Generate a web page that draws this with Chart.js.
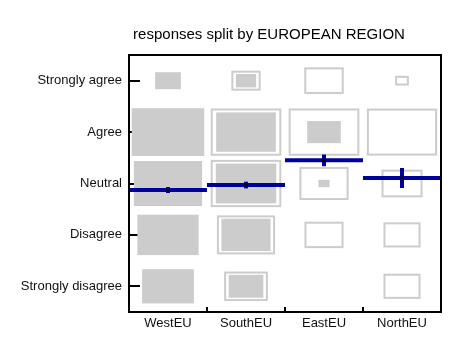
<!DOCTYPE html>
<html>
<head>
<meta charset="utf-8">
<script src="https://cdn.jsdelivr.net/npm/chart.js@4.4.0/dist/chart.umd.min.js"></script>
<style>
  html, body { margin: 0; padding: 0; background: #fff; }
</style>
</head>
<body>
<canvas id="myChart" width="453" height="345"></canvas>
<script>
// Data
var regions = ["WestEU", "SouthEU", "EastEU", "NorthEU"];
var levels = ["Strongly disagree", "Disagree", "Neutral", "Agree", "Strongly agree"];

// filled boxes, share of cell size, rows in levels order
var filledWest = [0.665, 0.785, 0.875, 0.93, 0.33];
var filledSouth = [0.445, 0.63, 0.775, 0.765, 0.26];
var filledEast = [0, 0, 0.145, 0.43, 0];
var filledNorth = [0, 0, 0, 0, 0];

// outlined boxes
var outlineWest = [0, 0, 0, 0, 0];
var outlineSouth = [0.535, 0.72, 0.88, 0.88, 0.35];
var outlineEast = [0, 0.475, 0.605, 0.88, 0.48];
var outlineNorth = [0.45, 0.45, 0.5, 0.875, 0.15];

// mean response (1 = strongly disagree .. 5 = strongly agree) and error
var means = [2.873, 2.97, 3.45, 3.107];
var meanErr = [0.058, 0.065, 0.114, 0.195];

var filled = [filledWest, filledSouth, filledEast, filledNorth];
var outlined = [outlineWest, outlineSouth, outlineEast, outlineNorth];

function line(ctx, x1, y1, x2, y2) {
  ctx.beginPath();
  ctx.moveTo(x1, y1);
  ctx.lineTo(x2, y2);
  ctx.stroke();
}

function cellRect(chart, cx, cy, s) {
  var x = chart.scales.x, y = chart.scales.y;
  var x1 = x.getPixelForValue(cx - s / 2), x2 = x.getPixelForValue(cx + s / 2);
  var y1 = y.getPixelForValue(cy + s / 2), y2 = y.getPixelForValue(cy - s / 2);
  return [x1, y1, x2 - x1, y2 - y1];
}

var boxPlugin = {
  id: "boxes",
  beforeDatasetsDraw: function (chart) {
    var ctx = chart.ctx, a = chart.chartArea;
    var x = chart.scales.x, y = chart.scales.y;
    ctx.save();
    // inward tick marks
    ctx.strokeStyle = "#000";
    ctx.lineWidth = 2;
    levels.forEach(function (l, i) {
      var py = Math.round(y.getPixelForValue(i + 1));
      line(ctx, a.left, py, a.left + 11, py);
    });
    for (var i = 1; i < regions.length; i++) {
      var px = Math.round(x.getPixelForValue(i + 0.5));
      line(ctx, px, a.bottom, px, a.bottom - 5);
    }
    // filled boxes
    ctx.fillStyle = "#cccccc";
    filled.forEach(function (col, i) {
      col.forEach(function (s, j) {
        if (!s) return;
        var r = cellRect(chart, i + 1, j + 1, s);
        ctx.fillRect(r[0], r[1], r[2], r[3]);
      });
    });
    // outlined boxes
    ctx.strokeStyle = "#cccccc";
    ctx.lineWidth = 2;
    outlined.forEach(function (col, i) {
      col.forEach(function (s, j) {
        if (!s) return;
        var r = cellRect(chart, i + 1, j + 1, s);
        ctx.strokeRect(r[0], r[1], r[2], r[3]);
      });
    });
    // mean lines + error bars
    ctx.strokeStyle = "#00009a";
    ctx.lineWidth = 4;
    means.forEach(function (m, i) {
      var py = y.getPixelForValue(m);
      line(ctx, x.getPixelForValue(i + 0.5), py, x.getPixelForValue(i + 1.5), py);
      var px = x.getPixelForValue(i + 1);
      line(ctx, px, y.getPixelForValue(m - meanErr[i]), px, y.getPixelForValue(m + meanErr[i]));
    });
    ctx.restore();
  },
  afterDatasetsDraw: function (chart) {
    var ctx = chart.ctx, a = chart.chartArea;
    ctx.save();
    ctx.strokeStyle = "#000";
    ctx.lineWidth = 2;
    ctx.strokeRect(a.left, a.top, a.right - a.left, a.bottom - a.top);
    ctx.restore();
  },
  afterDraw: function (chart) {
    var ctx = chart.ctx;
    ctx.save();
    ctx.fillStyle = "#000";
    ctx.font = "15px 'Liberation Sans', Arial, sans-serif";
    ctx.textAlign = "center";
    ctx.textBaseline = "alphabetic";
    ctx.fillText("responses split by EUROPEAN REGION", 269, 38.5);
    ctx.restore();
  }
};

var ctx = document.getElementById("myChart").getContext("2d");
var myChart = new Chart(ctx, {
  type: "scatter",
  data: {
    datasets: [
      {
        data: means.map(function (m, i) { return { x: i + 1, y: m }; }),
        backgroundColor: "#000",
        borderWidth: 0,
        pointRadius: 1.8,
      },
    ],
  },
  options: {
    responsive: false,
    animation: false,
    devicePixelRatio: 1,
    layout: {
      padding: { top: 55, right: 12, left: 0, bottom: 0 },
    },
    plugins: {
      legend: { display: false },
      tooltip: { enabled: false },
      title: { display: false },
    },
    scales: {
      x: {
        type: "linear",
        min: 0.5,
        max: 4.5,
        grid: { display: false, drawTicks: false },
        border: { display: false },
        afterBuildTicks: function (s) {
          s.ticks = regions.map(function (r, i) { return { value: i + 1 }; });
        },
        afterFit: function (s) {
          s.height = 33;
        },
        ticks: {
          padding: 4,
          maxRotation: 0,
          autoSkip: false,
          color: "#111",
          font: { family: "'Liberation Sans', Arial, sans-serif", size: 13 },
          callback: function (v) {
            return regions[v - 1];
          },
        },
      },
      y: {
        type: "linear",
        min: 0.5,
        max: 5.5,
        grid: { display: false, drawTicks: false },
        border: { display: false },
        afterBuildTicks: function (s) {
          s.ticks = levels.map(function (l, i) { return { value: i + 1 }; });
        },
        afterFit: function (s) {
          s.width = 129;
        },
        ticks: {
          padding: 7,
          autoSkip: false,
          color: "#111",
          font: { family: "'Liberation Sans', Arial, sans-serif", size: 13 },
          callback: function (v) {
            return levels[v - 1];
          },
        },
      },
    },
  },
  plugins: [boxPlugin],
});
</script>
</body>
</html>
